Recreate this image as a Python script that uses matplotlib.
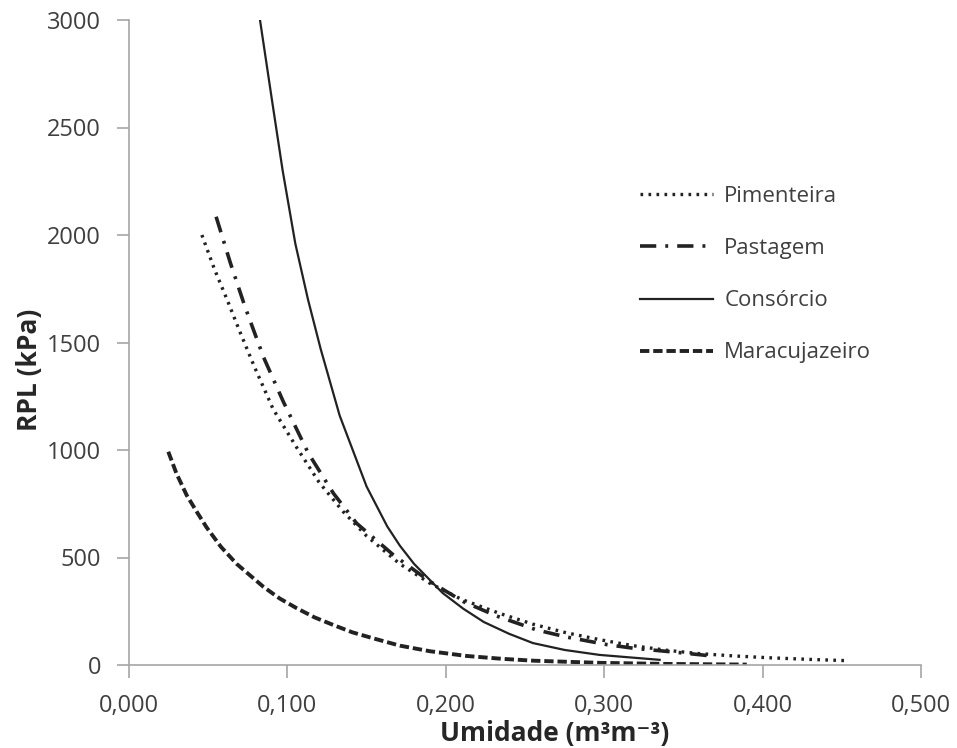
import matplotlib
matplotlib.use("Agg")
import matplotlib.pyplot as plt
from matplotlib.ticker import FuncFormatter

plt.rcParams['font.family'] = ['Open Sans', 'DejaVu Sans']

# Data (umidade in m3/m3, RPL in kPa)
pim_x = [0.046, 0.054, 0.062, 0.070, 0.079, 0.091, 0.106, 0.120, 0.135, 0.150, 0.171, 0.190,
         0.210, 0.234, 0.255, 0.276, 0.297, 0.318, 0.340, 0.360, 0.380, 0.403, 0.430, 0.454]
pim_y = [2000, 1840, 1698, 1550, 1390, 1190, 1010, 850, 715, 600, 470, 380,
         305, 240, 190, 150, 118, 90, 68, 53, 43, 34, 26, 20]

pas_x = [0.055, 0.064, 0.0732, 0.0848, 0.0974, 0.1132, 0.129, 0.1437, 0.1669, 0.19, 0.211,
         0.232, 0.2574, 0.2763, 0.3016, 0.3184, 0.3457, 0.3615, 0.365]
pas_y = [2085, 1870, 1667, 1434, 1225, 985, 799, 659, 512, 388, 295,
         228, 163, 130, 95, 78, 59, 47, 44]

con_x = [0.0827, 0.090, 0.097, 0.105, 0.113, 0.121, 0.133, 0.150, 0.163, 0.171, 0.180,
         0.198, 0.211, 0.224, 0.240, 0.255, 0.275, 0.297, 0.335]
con_y = [3000, 2640, 2300, 1960, 1700, 1470, 1160, 830, 645, 555, 470,
         335, 262, 200, 145, 102, 70, 47, 24]

mar_x = [0.0248, 0.030, 0.0364, 0.043, 0.049, 0.058, 0.068, 0.0848, 0.095, 0.1059, 0.117,
         0.129, 0.141, 0.1542, 0.171, 0.190, 0.2132, 0.235, 0.2553, 0.2973, 0.3395, 0.39]
mar_y = [992, 890, 790, 710, 640, 550, 470, 364, 310, 264, 222,
         186, 152, 124, 90, 64, 42, 29, 20, 10, 5, 2]

fig = plt.figure(figsize=(9.57, 7.48), dpi=100)
ax = fig.add_axes([129 / 957, 83 / 748, 792 / 957, 645 / 748])

ax.plot(pim_x, pim_y, color='#222222', lw=2.4, ls=(0, (0.8, 1.6)), label='Pimenteira')
ax.plot(pas_x, pas_y, color='#222222', lw=2.6, ls=(0, (4.5, 2.5, 0.8, 2.5)), label='Pastagem')
ax.plot(con_x, con_y, color='#222222', lw=1.6, ls='-', label='Consórcio')
ax.plot(mar_x, mar_y, color='#222222', lw=2.8, ls=(0, (2.4, 1.0)), label='Maracujazeiro')

ax.set_xlim(0, 0.5)
ax.set_ylim(0, 3000)
ax.set_xticks([0, 0.1, 0.2, 0.3, 0.4, 0.5])
ax.set_yticks([0, 500, 1000, 1500, 2000, 2500, 3000])
ax.xaxis.set_major_formatter(FuncFormatter(lambda v, p: f"{v:.3f}".replace('.', ',')))

for s in ['top', 'right']:
    ax.spines[s].set_visible(False)
for s in ['left', 'bottom']:
    ax.spines[s].set_color('#a6a6a6')
    ax.spines[s].set_linewidth(1.2)
ax.tick_params(axis='both', colors='#a6a6a6', length=9, width=1.2,
               labelsize=17, labelcolor='#404040')
ax.tick_params(axis='x', pad=12)
ax.tick_params(axis='y', pad=11)

fig.text(555 / 957, 1 - 733 / 748, 'Umidade (m³m⁻³)', ha='center', va='center',
         fontsize=19, fontweight='bold', color='#262626')
fig.text(29 / 957, 1 - 370 / 748, 'RPL (kPa)', ha='center', va='center', rotation=90,
         fontsize=19, fontweight='bold', color='#262626')

ax.legend(loc='center left', bbox_to_anchor=(0.645, 0.605), frameon=False,
          fontsize=16, handlelength=3.3, handletextpad=0.5, labelspacing=1.4,
          borderpad=0, borderaxespad=0, labelcolor='#404040')

fig.savefig('out.png', dpi=100)
